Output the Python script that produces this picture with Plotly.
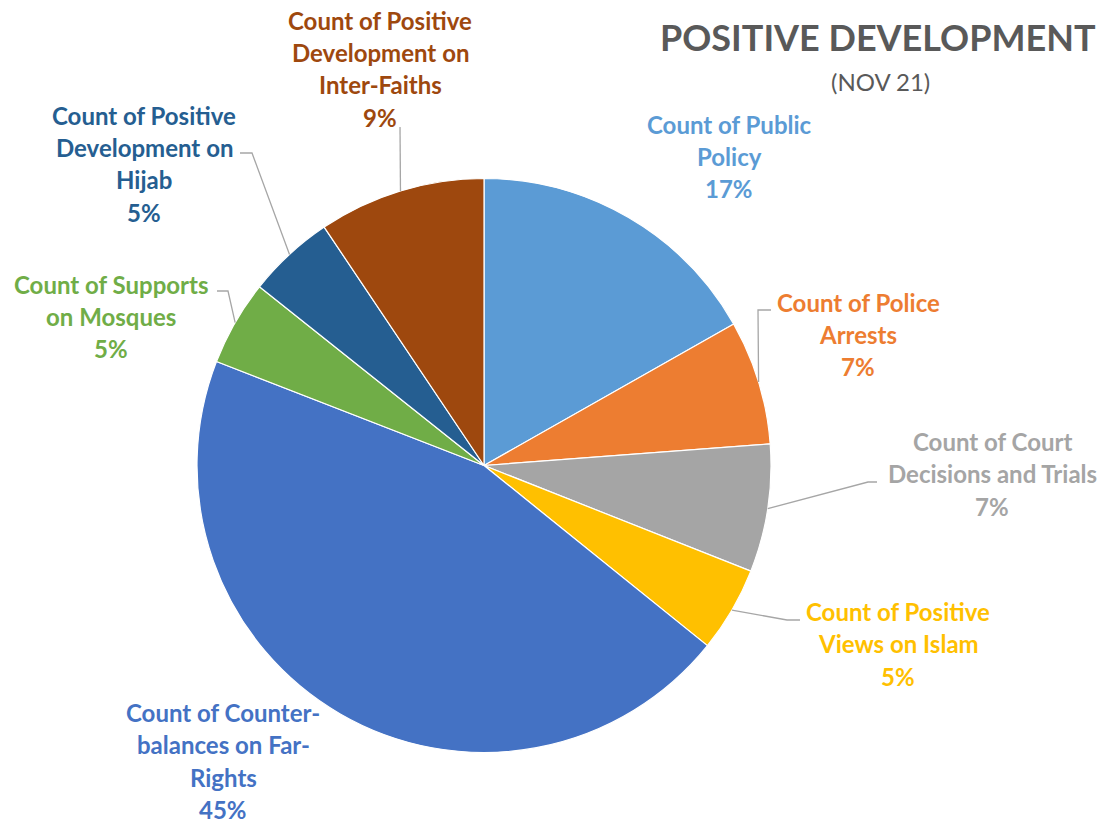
import math
import plotly.graph_objects as go

# ---- data ----
categories = [
    "Public Policy", "Police Arrests", "Court Decisions and Trials",
    "Positive Views on Islam", "Counter-balances on Far-Rights",
    "Supports on Mosques", "Positive Development on Hijab",
    "Positive Development on Inter-Faiths",
]
values = [16.8, 7.0, 7.2, 4.8, 45.1, 4.8, 4.9, 9.4]
label_lines = [
    ["Count of Public", "Policy"],
    ["Count of Police", "Arrests"],
    ["Count of Court", "Decisions and Trials"],
    ["Count of Positive", "Views on Islam"],
    ["Count of Counter-", "balances on Far-", "Rights"],
    ["Count of Supports", "on Mosques"],
    ["Count of Positive", "Development on", "Hijab"],
    ["Count of Positive", "Development on", "Inter-Faiths"],
]
colors = ["#5B9BD5", "#ED7D31", "#A5A5A5", "#FFC000",
          "#4472C4", "#70AD47", "#255E91", "#9E480E"]
title_text = "POSITIVE DEVELOPMENT"
subtitle_text = "(NOV 21)"

# ---- layout (pixels in the final page; page body has an 8px margin) ----
W, H = 1111, 820
OFF = 8
CX, CY, R = 484, 465.5, 287
# label block: center x, first line y
label_pos = [(729, 124), (858, 302), (992, 441), (898, 611),
             (223, 712), (111, 284), (144, 115), (380, 20)]
# leader line elbow + end (None = no leader)
leaders = [None, [(758, 310), (771, 310)], [(868, 482), (877, 482)],
           [(787, 620), (800, 620)], None,
           [(228, 291), (217, 291)], [(252, 153), (240, 153)],
           [(400, 127)]]
LINE_H = 32.5
FONT = "Lato"


def px(x):
    return (x - OFF) / W


def py(y):
    return 1 - (y - OFF) / H


fig = go.Figure(go.Pie(
    labels=categories, values=values, sort=False, direction="clockwise",
    rotation=0, textinfo="none", hoverinfo="label+percent",
    marker=dict(colors=colors, line=dict(color="white", width=1.2)),
    domain=dict(x=[px(CX - R), px(CX + R)], y=[py(CY + R), py(CY - R)]),
    showlegend=False,
))

total = sum(values)
annotations = []
shapes = []
cum = 0
for i, v in enumerate(values):
    mid = (cum + v / 2) / total * 2 * math.pi
    cum += v
    lines = label_lines[i] + [f"{v / total:.0%}"]
    lx, ly = label_pos[i]
    for j, t in enumerate(lines):
        annotations.append(dict(
            x=px(lx), y=py(ly + j * LINE_H), xref="paper", yref="paper",
            text=f"<b>{t}</b>", showarrow=False, xanchor="center",
            yanchor="middle",
            font=dict(family=FONT, size=24, color=colors[i])))
    if leaders[i]:
        sx = CX + R * math.sin(mid)
        sy = CY - R * math.cos(mid)
        pts = [(sx, sy)] + leaders[i]
        path = "M " + " L ".join(f"{px(a):.5f},{py(b):.5f}" for a, b in pts)
        shapes.append(dict(type="path", path=path, xref="paper", yref="paper",
                           line=dict(color="#A6A6A6", width=1.3)))

annotations.append(dict(x=px(878), y=py(37), xref="paper", yref="paper",
                        text=f"<b>{title_text}</b>", showarrow=False,
                        xanchor="center", yanchor="middle",
                        font=dict(family=FONT, size=36, color="#595959")))
annotations.append(dict(x=px(880), y=py(82), xref="paper", yref="paper",
                        text=subtitle_text, showarrow=False,
                        xanchor="center", yanchor="middle",
                        font=dict(family=FONT, size=24, color="#595959")))
shapes.append(dict(type="line", xref="paper", yref="paper",
                   x0=px(1106), x1=px(1106), y0=0, y1=1,
                   line=dict(color="#D9D9D9", width=1.2)))

fig.update_layout(width=W, height=H, margin=dict(l=0, r=0, t=0, b=0),
                  paper_bgcolor="white", plot_bgcolor="white",
                  annotations=annotations, shapes=shapes)
fig.write_html("out.html")
